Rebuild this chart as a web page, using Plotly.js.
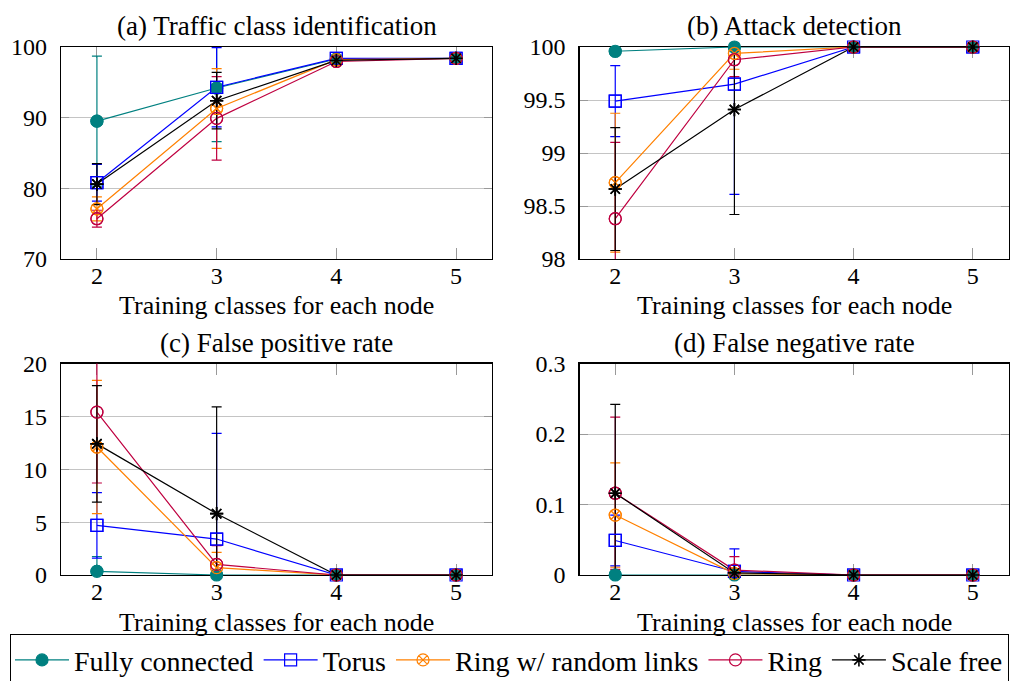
<!DOCTYPE html>
<html>
<head>
<meta charset="utf-8">
<script src="https://cdn.plot.ly/plotly-3.0.1.min.js"></script>
<style>
  html, body { margin: 0; padding: 0; background: #fff; }
  #chart { width: 1011px; height: 681px; }
</style>
</head>
<body>
<div id="chart"></div>
<script>
// Number of training classes per node (shared x values)
const trainingClasses = [2, 3, 4, 5];

const topologyNames = ['Fully connected', 'Torus', 'Ring w/ random links', 'Ring', 'Scale free'];

// (a) Traffic class identification accuracy (%), mean and spread
const idFully = [89.5, 94.2, 98.3, 98.4];
const idFullyErr = [9.2, 7.6, 0.2, 0.1];
const idTorus = [80.8, 94.3, 98.4, 98.4];
const idTorusErr = [2.6, 5.6, 0.2, 0.1];
const idRandom = [77.1, 91.3, 98.2, 98.4];
const idRandomErr = [1.7, 5.65, 0.3, 0.1];
const idRing = [75.7, 89.9, 97.95, 98.4];
const idRingErr = [1.2, 5.9, 0.3, 0.1];
const idScale = [80.6, 92.4, 98.1, 98.4];
const idScaleErr = [2.9, 4.0, 0.3, 0.1];

// (b) Attack detection accuracy (%)
const adFully = [99.96, 100.0, 100.0, 100.0];
const adFullyErr = [0.04, 0.01, 0.0, 0.0];
const adTorus = [99.49, 99.65, 100.0, 100.0];
const adTorusErr = [0.335, 1.04, 0.0, 0.0];
const adRandom = [98.72, 99.94, 100.0, 100.0];
const adRandomErr = [0.655, 0.15, 0.0, 0.0];
const adRing = [98.38, 99.88, 100.0, 100.0];
const adRingErr = [0.72, 0.16, 0.0, 0.0];
const adScale = [98.66, 99.41, 100.0, 100.0];
const adScaleErr = [0.58, 0.99, 0.0, 0.0];

// (c) False positive rate (%)
const fpFully = [0.35, 0.0, 0.0, 0.0];
const fpFullyErr = [1.4, 0.0, 0.0, 0.0];
const fpTorus = [4.69, 3.4, 0.0, 0.0];
const fpTorusErr = [3.1, 10.0, 0.0, 0.0];
const fpRandom = [12.1, 0.7, 0.0, 0.0];
const fpRandomErr = [6.3, 1.44, 0.0, 0.0];
const fpRing = [15.4, 1.0, 0.0, 0.0];
const fpRingErr = [6.7, 1.77, 0.0, 0.0];
const fpScale = [12.4, 5.8, 0.0, 0.0];
const fpScaleErr = [5.5, 10.1, 0.0, 0.0];

// (d) False negative rate (%)
const fnFully = [0.0, 0.0, 0.0, 0.0];
const fnFullyErr = [0.0, 0.0, 0.0, 0.0];
const fnTorus = [0.049, 0.005, 0.0, 0.0];
const fnTorusErr = [0.036, 0.032, 0.0, 0.0];
const fnRandom = [0.085, 0.002, 0.0, 0.0];
const fnRandomErr = [0.074, 0.002, 0.0, 0.0];
const fnRing = [0.116, 0.007, 0.0, 0.0];
const fnRingErr = [0.108, 0.019, 0.0, 0.0];
const fnScale = [0.116, 0.003, 0.0, 0.0];
const fnScaleErr = [0.126, 0.003, 0.0, 0.0];

const panelTitles = ['(a) Traffic class identification', '(b) Attack detection',
                     '(c) False positive rate', '(d) False negative rate'];
const xTitle = 'Training classes for each node';

// Styling per topology
const colors = ['#008080', '#0000ff', '#ff8000', '#bf0040', '#000000'];
const symbols = ['circle', 'square-open', 'circle-x-open', 'circle-open', 'asterisk-open'];
const markerSizes = [12, 12, 12, 12, 11];
const markerLines = [1.2, 1.2, 1.2, 1.2, 1.6];

const panels = [
  { means: [idFully, idTorus, idRandom, idRing, idScale],
    errs: [idFullyErr, idTorusErr, idRandomErr, idRingErr, idScaleErr] },
  { means: [adFully, adTorus, adRandom, adRing, adScale],
    errs: [adFullyErr, adTorusErr, adRandomErr, adRingErr, adScaleErr] },
  { means: [fpFully, fpTorus, fpRandom, fpRing, fpScale],
    errs: [fpFullyErr, fpTorusErr, fpRandomErr, fpRingErr, fpScaleErr] },
  { means: [fnFully, fnTorus, fnRandom, fnRing, fnScale],
    errs: [fnFullyErr, fnTorusErr, fnRandomErr, fnRingErr, fnScaleErr] }
];

const W = 1011, H = 681;
const px = v => v / W;
const py = v => 1 - v / H;

// plot areas in pixels: [left, right, top, bottom]
const boxes = [
  [61, 492, 47, 259],
  [579.5, 1008.5, 47, 259],
  [61, 492, 363.5, 575],
  [579.5, 1008.5, 363.5, 575]
];
const yRanges = [[70, 100], [98, 100], [0, 20], [0, 0.3]];
const yDticks = [10, 0.5, 5, 0.1];

const FONT = 'Liberation Serif, Times New Roman, serif';
const FS = 27;         // panel titles
const XTITLE_FS = 26;  // x-axis captions
const LEGEND_FS = 28;  // legend entries
const TICK_FS = 24;    // tick labels

const traces = [];
panels.forEach((p, pi) => {
  const xa = pi === 0 ? 'x' : 'x' + (pi + 1);
  const ya = pi === 0 ? 'y' : 'y' + (pi + 1);
  p.means.forEach((m, si) => {
    // line + error bars, clipped to the plot area
    traces.push({
      x: trainingClasses, y: m, xaxis: xa, yaxis: ya,
      type: 'scatter', mode: 'lines+markers', name: topologyNames[si],
      legendgroup: topologyNames[si], showlegend: pi === 0,
      cliponaxis: true,
      line: { color: colors[si], width: 1.2 },
      marker: { symbol: symbols[si], size: markerSizes[si], color: colors[si],
                line: { color: colors[si], width: markerLines[si] } },
      error_y: { type: 'data', array: p.errs[si], visible: true, color: colors[si], thickness: 1.2, width: 5 },
      hoverinfo: 'x+y+name'
    });
  });
  p.means.forEach((m, si) => {
    // markers drawn unclipped so points on the frame stay whole
    traces.push({
      x: trainingClasses, y: m, xaxis: xa, yaxis: ya,
      type: 'scatter', mode: 'markers', name: topologyNames[si],
      legendgroup: topologyNames[si], showlegend: false, cliponaxis: false,
      marker: { symbol: symbols[si], size: markerSizes[si], color: colors[si],
                line: { color: colors[si], width: markerLines[si] } },
      hoverinfo: 'skip'
    });
  });
});

const layout = {
  width: W, height: H,
  margin: { l: 0, r: 0, t: 0, b: 0, autoexpand: false },
  paper_bgcolor: '#fff', plot_bgcolor: '#fff',
  font: { family: FONT, size: FS, color: '#000' },
  showlegend: true,
  legend: {
    orientation: 'h', x: px(10), y: py(634), xanchor: 'left', yanchor: 'top',
    bordercolor: '#000', borderwidth: 1.2, bgcolor: '#fff',
    font: { family: FONT, size: LEGEND_FS }, itemwidth: 54, tracegroupgap: 0
  },
  annotations: []
};

boxes.forEach((b, i) => {
  const k = i === 0 ? '' : String(i + 1);
  const yKey = 'y' + (i === 0 ? '' : i + 1);
  layout['xaxis' + k] = {
    domain: [px(b[0]), px(b[1])], anchor: yKey,
    range: [1.7, 5.3], tickvals: trainingClasses,
    showline: true, linecolor: '#000', linewidth: 1.3, mirror: 'ticks',
    ticks: 'inside', ticklen: 11, tickcolor: '#999', tickwidth: 1,
    showgrid: false, zeroline: false, layer: 'below traces', automargin: false,
    tickfont: { family: FONT, size: TICK_FS }, ticklabelstandoff: -5
  };
  layout['yaxis' + k] = {
    domain: [py(b[3]), py(b[2])], anchor: 'x' + k,
    range: yRanges[i], dtick: yDticks[i], tick0: 0,
    showline: true, linecolor: '#000', linewidth: 1.3, mirror: 'ticks',
    ticks: 'inside', ticklen: 8, tickcolor: '#999', tickwidth: 1,
    showgrid: true, gridcolor: '#c4c4c4', gridwidth: 1, zeroline: false,
    layer: 'below traces', ticklabelstandoff: 8, automargin: false,
    tickfont: { family: FONT, size: TICK_FS }
  };
  // panel title above the frame
  layout.annotations.push({
    text: panelTitles[i], xref: 'paper', yref: 'paper',
    x: px((b[0] + b[1]) / 2), y: py(b[2] - 21), xanchor: 'center', yanchor: 'middle',
    showarrow: false, font: { family: FONT, size: FS }
  });
  // x-axis caption below the tick labels
  layout.annotations.push({
    text: xTitle, xref: 'paper', yref: 'paper',
    x: px((b[0] + b[1]) / 2), y: py(b[3] + 47), xanchor: 'center', yanchor: 'middle',
    showarrow: false, font: { family: FONT, size: XTITLE_FS }, borderpad: 0
  });
});

Plotly.newPlot('chart', traces, layout, { displayModeBar: false, staticPlot: true });
</script>
</body>
</html>
